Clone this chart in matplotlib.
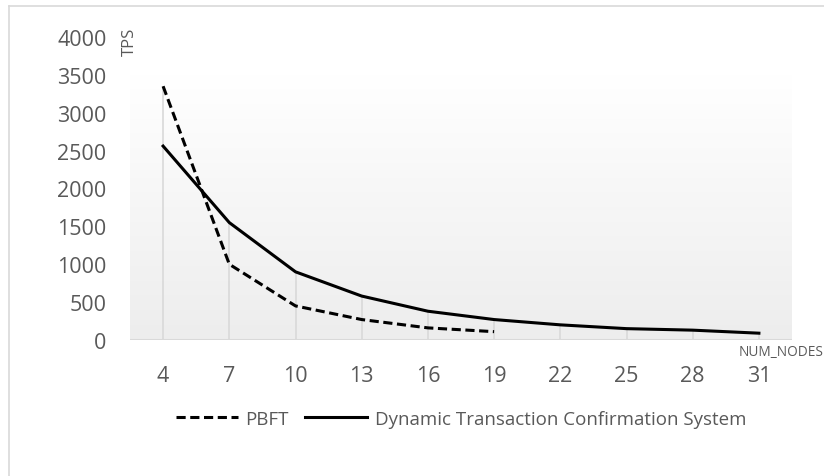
import matplotlib
matplotlib.use("Agg")
import matplotlib.pyplot as plt
import numpy as np
from matplotlib.lines import Line2D
from matplotlib.colors import LinearSegmentedColormap

categories = ["4", "7", "10", "13", "16", "19", "22", "25", "28", "31"]
pbft = [3350, 1000, 450, 270, 160, 110]
dtcs = [2560, 1550, 900, 580, 380, 270, 200, 150, 130, 90]
yticks = [0, 500, 1000, 1500, 2000, 2500, 3000, 3500, 4000]

plt.rcParams['font.family'] = ['Open Sans', 'DejaVu Sans']
W, H = 824, 477
fig = plt.figure(figsize=(W/100, H/100), dpi=100)
fig.patch.set_facecolor('white')

# outer chart border (top and left visible)
fig.add_artist(Line2D([9/W, 9/W], [0, 1 - 7/H], color='#d9d9d9', lw=1.2))
fig.add_artist(Line2D([9/W, 1], [1 - 7/H, 1 - 7/H], color='#d9d9d9', lw=1.2))

L, R, T, B = 130, 792, 38, 341
ax = fig.add_axes([L/W, 1 - B/H, (R-L)/W, (B-T)/H])
ax.set_facecolor('none')
for s in ax.spines.values():
    s.set_visible(False)

x = np.arange(len(categories))

# gradient plot area fill
grad = np.linspace(1.0, 0.0, 256).reshape(-1, 1)
cmap = LinearSegmentedColormap.from_list('g', ['#ededed', '#ffffff'])
ax.imshow(grad, aspect='auto', cmap=cmap, extent=(-0.5, len(categories) - 0.5, 0, 3500),
          origin='upper', zorder=0, interpolation='bilinear', vmin=0, vmax=1)
ax.set_ylim(0, 4000)
ax.set_xlim(-0.5, len(categories) - 0.5)

# drop lines
tops = [max(dtcs[i], pbft[i] if i < len(pbft) else 0) for i in range(len(categories))]
ax.vlines(x, 0, tops, color='#d9d9d9', lw=1.2, zorder=1)
ax.axhline(0, color='#d9d9d9', lw=1.5, zorder=1)

ax.plot(x[:len(pbft)], pbft, color='black', lw=2.2, ls=(0, (3, 1.5)), zorder=3, label='PBFT')
ax.plot(x, dtcs, color='black', lw=2.2, zorder=3, label='Dynamic Transaction Confirmation System')

ax.set_xticks(x)
ax.set_xticklabels(categories)
ax.set_yticks(yticks)
ax.tick_params(axis='both', length=0, labelsize=15.5, labelcolor='#595959')
ax.tick_params(axis='x', pad=18)
ax.tick_params(axis='y', pad=17)

fig.text(130/W, 1 - 42/H, 'TPS', rotation=90, fontsize=12, color='#595959',
         ha='center', va='center')
fig.text(739/W, 1 - 353/H, 'NUM_NODES', fontsize=9.8, color='#595959',
         ha='left', va='center')

handles = [Line2D([], [], color='black', lw=2.2, ls=(0, (3, 1.5))),
           Line2D([], [], color='black', lw=2.2)]
fig.legend(handles, ['PBFT', 'Dynamic Transaction Confirmation System'],
           loc='center', bbox_to_anchor=(461/W, 1 - 420/H), ncol=2, frameon=False,
           fontsize=13.5, labelcolor='#595959', handlelength=3.3, handletextpad=0.4,
           columnspacing=0.9)

fig.savefig('out.png', dpi=100)
